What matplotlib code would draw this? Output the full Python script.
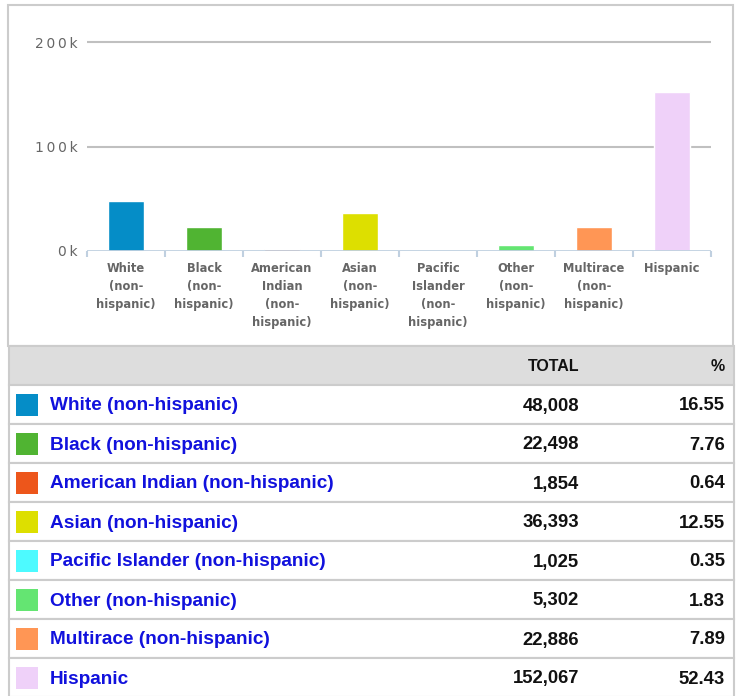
import matplotlib.pyplot as plt
from matplotlib.patches import Rectangle

# data
categories = ["White (non-hispanic)", "Black (non-hispanic)", "American Indian (non-hispanic)",
              "Asian (non-hispanic)", "Pacific Islander (non-hispanic)", "Other (non-hispanic)",
              "Multirace (non-hispanic)", "Hispanic"]
tick_labels = ["White\n(non-\nhispanic)", "Black\n(non-\nhispanic)", "American\nIndian\n(non-\nhispanic)",
               "Asian\n(non-\nhispanic)", "Pacific\nIslander\n(non-\nhispanic)", "Other\n(non-\nhispanic)",
               "Multirace\n(non-\nhispanic)", "Hispanic"]
totals = [48008, 22498, 1854, 36393, 1025, 5302, 22886, 152067]
pcts = [16.55, 7.76, 0.64, 12.55, 0.35, 1.83, 7.89, 52.43]
colors = ["#058DC7", "#50B432", "#ED561B", "#DDDF00", "#4DFAFF", "#64E572", "#FF9655", "#EFD1F9"]
yticks = [0, 100000, 200000]
ytick_labels = ["0k", "100k", "200k"]

W, H = 743, 696
fig = plt.figure(figsize=(W / 100, H / 100), dpi=100)
fig.patch.set_facecolor("white")

def fx(x):
    return x / W

def fy(y):
    return 1 - y / H

# background / table layer in pixel coordinates
bg = fig.add_axes([0, 0, 1, 1])
bg.set_xlim(0, W)
bg.set_ylim(H, 0)
bg.axis("off")

# chart panel border
bg.add_patch(Rectangle((8, 5), 725, 341, facecolor="white", edgecolor="#CCCCCC", lw=1.5))

# table
row_h = 39
head_top = 346
fnt = "Liberation Sans"
bg.add_patch(Rectangle((9, head_top), 725, row_h, facecolor="#DDDDDD", edgecolor="#CCCCCC", lw=1.5))
bg.text(579, head_top + row_h / 2 + 1, "TOTAL", ha="right", va="center", fontsize=11.5,
        fontweight="bold", family=fnt, color="#111111")
bg.text(725, head_top + row_h / 2 + 1, "%", ha="right", va="center", fontsize=11.5,
        fontweight="bold", family=fnt, color="#111111")

for i, name in enumerate(categories):
    top = head_top + row_h * (i + 1)
    cy = top + row_h / 2 + 1.5
    bg.add_patch(Rectangle((9, top), 725, row_h, facecolor="white", edgecolor="#CCCCCC", lw=1.5))
    bg.add_patch(Rectangle((16, cy - 12), 22, 22, facecolor=colors[i], edgecolor="none"))
    bg.text(50, cy, name, ha="left", va="center", fontsize=13.7, fontweight="bold",
            family=fnt, color="#1111DD")
    bg.text(579, cy, f"{totals[i]:,}", ha="right", va="center", fontsize=13.3,
            fontweight="bold", family=fnt, color="#111111")
    bg.text(725, cy, f"{pcts[i]:.2f}", ha="right", va="center", fontsize=13.3,
            fontweight="bold", family=fnt, color="#111111")

# bar chart
ax_top, ax_bot, grid_top = 30, 251, 42
ax = fig.add_axes([fx(87), fy(ax_bot), fx(711 - 87), (ax_bot - ax_top) / H])
ax.set_facecolor("none")
x = list(range(len(totals)))
ax.bar(x, totals, width=0.47, color=colors, edgecolor="white", linewidth=1, zorder=3)
ax.set_xlim(-0.5, len(totals) - 0.5)
ax.set_ylim(0, 200000 * (ax_bot - ax_top) / (ax_bot - grid_top))

for s in ax.spines.values():
    s.set_visible(False)
for v in yticks[1:]:
    ax.axhline(v, color="#C0C0C0", lw=1.5, zorder=1)
ax.axhline(0, color="#C0D0E0", lw=2, zorder=4)

# letter-spaced y labels
ax.set_yticks(yticks)
ax.set_yticklabels(["\u2009".join(t) for t in ytick_labels])
ax.tick_params(axis="y", length=0, pad=7, labelsize=10, labelcolor="#666666")

ax.set_xticks(x)
ax.set_xticklabels(tick_labels, fontweight="bold", linespacing=1.48)
ax.set_xticks([i - 0.5 for i in range(len(totals) + 1)], minor=True)
ax.tick_params(axis="x", which="major", length=0, pad=8, labelsize=8.3, labelcolor="#666666")
ax.tick_params(axis="x", which="minor", length=4, width=1.5, color="#C0D0E0", direction="out")

fig.savefig("out.png", dpi=100)
